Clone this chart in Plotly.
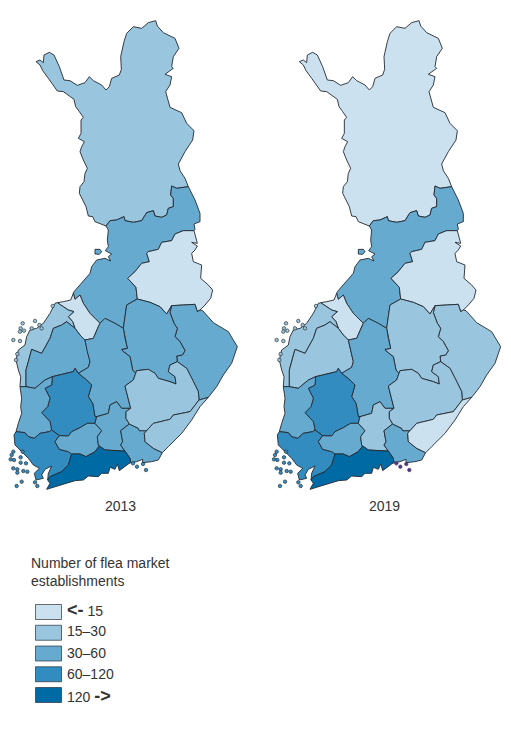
import plotly.graph_objects as go

LAP_COAST = [(318,-102),(300,-110),(285,-115),(278,-130),(265,-132),(258,-160),(245,-185),(238,-200),(240,-220),(252,-235),(255,-260),(262,-275),(250,-300),(240,-325),(245,-340),(253,-355),(235,-365),(243,-380),(243,-420),(250,-428),(238,-445),(227,-460),(222,-482),(205,-495),(190,-505),(172,-507),(160,-525),(145,-545),(128,-568),(120,-585),(108,-595),(120,-600),(130,-592),(132,-615),(148,-623),(162,-615),(178,-580),(192,-540),(210,-538),(232,-524),(255,-532),(268,-550),(280,-538),(305,-525),(318,-510),(328,-520),(335,-545),(358,-555),(364,-572),(362,-610),(372,-655),(380,-680),(400,-700),(425,-695),(445,-712),(467,-718),(472,-702),(490,-682),(525,-665),(537,-635),(520,-610),(515,-580),(520,-575),(495,-557),(515,-550),(510,-525),(497,-505),(505,-470),(510,-458),(545,-442),(560,-410),(582,-388),(578,-360),(555,-325),(535,-288),(540,-268),(555,-245),(565,-220)]
LAP_SOUTH = [(565,-220),(530,-215),(515,-222),(512,-195),(520,-185),(520,-160),(505,-155),(500,-135),(485,-128),(465,-132),(460,-148),(440,-142),(425,-118),(400,-113),(375,-118),(372,-130),(350,-120),(330,-118),(318,-102)]
NOST_EAST = [(565,-220),(585,-180),(600,-140),(600,-115),(582,-108),(585,-92),(582,-88)]
KAI_NOST = [(582,-88),(550,-88),(525,-78),(515,-58),(485,-53),(475,-32),(445,-25),(440,-20),(448,5),(425,10),(405,35),(383,55),(408,82),(412,117)]
KAI_EAST = [(582,-88),(592,-50),(575,-53),(592,-42),(585,-30),(575,-20),(580,5),(605,15),(602,55),(625,75),(638,90),(632,115),(615,135),(600,150)]
KAI_NKAR = [(600,150),(592,155),(585,133),(550,135),(515,137)]
KAI_NSAV = [(515,137),(500,162),(480,140),(450,127),(412,117)]
NOST_COAST = [(318,-102),(325,-90),(322,-60),(325,-40),(316,-28),(335,-18),(325,-10),(332,3),(315,-5),(290,0),(275,20),(270,40),(240,75),(222,95),(220,100)]
NOST_COST = [(220,100),(225,118),(240,105),(250,130),(270,160),(300,190)]
NOST_CFIN = [(300,190),(315,175),(345,190),(370,205)]
NOST_NSAV = [(370,205),(375,170),(380,135),(412,117)]
COST_COAST = [(220,100),(212,120),(190,125),(172,128)]
COST_OST = [(172,128),(190,140),(205,150),(222,155),(205,170),(218,185),(225,205)]
COST_SOST = [(225,205),(240,225),(255,240)]
COST_CFIN = [(255,240),(280,235),(295,200),(300,190)]
OST_COAST = [(172,128),(165,130),(150,160),(130,190),(110,205),(90,210),(80,230),(75,255),(55,270),(48,300),(55,330),(62,350),(60,380)]
OST_SOST = [(225,205),(200,185),(185,195),(160,205),(150,235),(125,280),(95,268),(85,305),(78,330),(78,380)]
OST_SATA = [(60,380),(78,380)]
SOST_SATA = [(78,380),(105,385),(135,360),(157,350)]
SOST_PIRK = [(157,350),(190,342),(220,335),(225,325),(235,340)]
SOST_CFIN = [(235,340),(265,322),(270,305),(262,275),(255,240)]
SATA_PIRK = [(157,350),(155,375),(135,385),(150,415),(143,440),(125,458),(150,485),(155,510)]
SATA_VSSU = [(155,510),(148,515),(120,520),(103,535),(85,530),(75,518),(48,515)]
SATA_COAST = [(48,515),(55,490),(65,460),(62,440),(65,415),(60,380)]
PIRK_CFIN = [(235,340),(260,360),(275,375),(265,410),(278,430),(285,470),(290,470)]
PIRK_PAIJ = [(290,470),(285,490)]
PIRK_KANT = [(285,490),(262,490),(240,503),(215,515),(205,528),(178,527)]
PIRK_VSSU = [(178,527),(155,510)]
VSSU_KANT = [(178,527),(165,545),(178,568),(205,575),(215,582)]
KANT_UUSI = [(215,582),(240,582),(258,590),(285,575),(298,558)]
KANT_PAIJ = [(285,490),(305,512),(292,530),(295,555),(298,558)]
PAIJ_CFIN = [(290,470),(325,460),(330,435),(350,425),(365,445),(392,445)]
PAIJ_SSAV = [(392,445),(378,455),(378,475),(388,492)]
PAIJ_KYME = [(388,492),(362,512),(368,545),(362,555),(375,573)]
PAIJ_UUSI = [(298,558),(315,570),(345,572),(375,573)]
UUSI_KYME = [(375,573),(390,595),(392,608)]
KYME_COAST = [(392,608),(410,605),(428,598),(428,608),(455,605),(475,600),(487,578)]
KYME_SKAR = [(487,578),(460,565),(435,545),(433,520),(440,512)]
KYME_SSAV = [(388,492),(415,505),(418,512),(440,512)]
SSAV_SKAR = [(440,512),(460,490),(510,478),(520,465),(570,455),(597,420)]
SKAR_COAST = [(625,412),(600,440),(575,480),(545,520),(505,560),(487,578)]
SKAR_NKAR = [(597,420),(625,412)]
NKAR_COAST = [(600,150),(608,152),(640,188),(685,215),(712,260),(695,310),(670,345),(650,380),(625,412)]
NKAR_SSAV = [(532,305),(560,325),(578,360),(595,395),(597,420)]
NKAR_NSAV = [(515,137),(510,158),(522,190),(532,205),(525,230),(540,245),(555,272),(547,285),(530,288),(532,305)]
NSAV_SSAV = [(532,305),(510,315),(505,335),(525,350),(528,372),(510,365),(475,355),(465,340),(445,328),(410,332),(407,340)]
NSAV_CFIN = [(370,205),(375,235),(382,265),(365,268),(368,273),(390,290),(395,310),(398,330),(407,340)]
CFIN_SSAV = [(407,340),(400,360),(375,378),(385,415),(392,445)]
UUSI_COAST = [(392,608),(385,612),(372,622),(358,632),(352,612),(345,628),(330,622),(325,640),(305,640),(295,650),(265,648),(250,660),(225,662),(190,672),(165,680),(140,688),(150,670),(143,660)]
VSSU_UUSI = [(215,582),(205,615),(185,635),(150,650),(143,660)]
VSSU_COAST = [(143,660),(145,640),(155,618),(135,628),(125,645),(130,655),(108,660),(103,640),(118,625),(100,615),(85,595),(60,570),(45,555),(42,525),(48,515)]
HAILUOTO = [(285,-32),(300,-32),(305,-25),(298,-17),(285,-18)]

REGIONS = ["Lapland", "North Ostrobothnia", "Kainuu", "North Karelia", "North Savo", "Central Ostrobothnia",
           "Ostrobothnia", "South Ostrobothnia", "Central Finland", "Pirkanmaa", "Satakunta", "Southwest Finland",
           "Kanta-Hame", "Paijat-Hame", "Kymenlaakso", "South Savo", "South Karelia", "Uusimaa"]

# every ring: border list and whether it is walked backwards
RINGS = [
    [(LAP_COAST, 0), (LAP_SOUTH, 0)],
    [(LAP_SOUTH, 1), (NOST_EAST, 0), (KAI_NOST, 0), (NOST_NSAV, 1), (NOST_CFIN, 1), (NOST_COST, 1), (NOST_COAST, 1)],
    [(KAI_NOST, 0), (KAI_NSAV, 1), (KAI_NKAR, 1), (KAI_EAST, 1)],
    [(NKAR_COAST, 0), (SKAR_NKAR, 1), (NKAR_SSAV, 1), (NKAR_NSAV, 1), (KAI_NKAR, 1)],
    [(KAI_NSAV, 1), (NKAR_NSAV, 0), (NSAV_SSAV, 0), (NSAV_CFIN, 1), (NOST_NSAV, 0)],
    [(NOST_COST, 0), (COST_CFIN, 1), (COST_SOST, 1), (COST_OST, 1), (COST_COAST, 1)],
    [(OST_COAST, 0), (OST_SATA, 0), (OST_SOST, 1), (COST_OST, 1)],
    [(COST_SOST, 0), (SOST_CFIN, 1), (SOST_PIRK, 1), (SOST_SATA, 1), (OST_SOST, 1)],
    [(NOST_CFIN, 0), (NSAV_CFIN, 0), (CFIN_SSAV, 0), (PAIJ_CFIN, 1), (PIRK_CFIN, 1), (SOST_CFIN, 0), (COST_CFIN, 0)],
    [(SOST_PIRK, 0), (PIRK_CFIN, 0), (PIRK_PAIJ, 0), (PIRK_KANT, 0), (PIRK_VSSU, 0), (SATA_PIRK, 1)],
    [(OST_SATA, 0), (SOST_SATA, 0), (SATA_PIRK, 0), (SATA_VSSU, 0), (SATA_COAST, 0)],
    [(SATA_VSSU, 0), (VSSU_COAST, 1), (VSSU_UUSI, 1), (VSSU_KANT, 1), (PIRK_VSSU, 0)],
    [(PIRK_KANT, 0), (VSSU_KANT, 0), (KANT_UUSI, 0), (KANT_PAIJ, 1)],
    [(PAIJ_CFIN, 0), (PAIJ_SSAV, 0), (PAIJ_KYME, 0), (PAIJ_UUSI, 1), (KANT_PAIJ, 1), (PIRK_PAIJ, 1)],
    [(KYME_SSAV, 0), (KYME_SKAR, 1), (KYME_COAST, 1), (UUSI_KYME, 1), (PAIJ_KYME, 1)],
    [(CFIN_SSAV, 0), (PAIJ_SSAV, 0), (KYME_SSAV, 0), (SSAV_SKAR, 0), (NKAR_SSAV, 1), (NSAV_SSAV, 0)],
    [(SSAV_SKAR, 0), (SKAR_NKAR, 0), (SKAR_COAST, 0), (KYME_SKAR, 0)],
    [(KANT_UUSI, 0), (PAIJ_UUSI, 0), (UUSI_KYME, 0), (UUSI_COAST, 0), (VSSU_UUSI, 1)],
]

# class index of each region
CLASS_2013 = [1, 2, 0, 2, 2, 0, 1, 2, 2, 3, 2, 3, 2, 2, 2, 1, 1, 4]
CLASS_2019 = [0, 2, 0, 1, 1, 0, 1, 1, 2, 3, 2, 3, 2, 1, 2, 1, 0, 4]

YEARS = ["2013", "2019"]
LEGEND_TITLE = "Number of flea market<br>establishments"
ARROW = '<span style="font-size:18px"><b>%s</b></span>'
LEGEND_LABELS = [ARROW % "&lt;-" + " 15", "15–30", "30–60", "60–120", "120 " + ARROW % "-&gt;"]
COLORS = ["#cce1ef", "#99c5de", "#66aad0", "#338cbf", "#006aa5"]

ISLANDS_OST = [(68,190),(62,205),(72,212),(60,215),(105,183),(95,205),(118,195),(125,205),(40,240),(60,243),(52,282),(48,300),(158,138)]
ISLANDS_VSSU = [(40,575),(35,585),(32,598),(42,600),(68,575),(62,592),(62,608),(78,610),(40,625),(52,628),(52,638),(70,633),(82,635),(65,665),(50,678),(105,667),(112,678)]
ISLANDS_KYME = [(399,610),(411,620),(429,612),(438,630)]

W, H = 511, 732
OFFSET_2019 = 790  # second map sits 263 px to the right
LINE = "rgba(35,42,50,0.9)"
FONT = "Liberation Sans, Arial, sans-serif"


def ring_points(ring):
    pts = []
    for border, backwards in ring:
        pts += border[::-1] if backwards else border
    return pts


def add_polygon(fig, pts, color, shift, name):
    fig.add_trace(go.Scatter(x=[p[0] + shift for p in pts] + [pts[0][0] + shift],
                             y=[p[1] for p in pts] + [pts[0][1]],
                             mode="lines", fill="toself", fillcolor=color, name=name,
                             line=dict(color=LINE, width=1), hoverinfo="name"))


def add_islands(fig, pts, color, shift, name, edge=LINE):
    fig.add_trace(go.Scatter(x=[p[0] + shift for p in pts], y=[p[1] for p in pts], mode="markers", name=name,
                             marker=dict(size=3.5, color=color, line=dict(color=edge, width=0.7)),
                             hoverinfo="name"))


fig = go.Figure()
for classes, shift in zip([CLASS_2013, CLASS_2019], [0, OFFSET_2019]):
    for name, ring, c in zip(REGIONS, RINGS, classes):
        add_polygon(fig, ring_points(ring), COLORS[c], shift, name)
    add_polygon(fig, HAILUOTO, COLORS[classes[1]], shift, REGIONS[1])
    add_islands(fig, ISLANDS_OST, COLORS[classes[6]], shift, REGIONS[6])
    add_islands(fig, ISLANDS_VSSU, COLORS[3], shift, REGIONS[11])
    if shift:
        add_islands(fig, ISLANDS_KYME, "#4f3a78", shift, REGIONS[14], edge="#4f3a78")
    else:
        add_islands(fig, ISLANDS_KYME, COLORS[3], shift, REGIONS[14])


def paper_x(px):
    return px / W


def paper_y(px):
    return 1 - px / H


annotations = []
for year, px in zip(YEARS, [120, 384]):
    annotations.append(dict(text=year, x=paper_x(px), y=paper_y(506), xanchor="center", yanchor="middle"))
annotations.append(dict(text=LEGEND_TITLE, x=paper_x(29), y=paper_y(572), xanchor="left", yanchor="middle", align="left"))

shapes = []
for i, (label, color) in enumerate(zip(LEGEND_LABELS, COLORS)):
    top = 604.5 + i * 20.75
    shapes.append(dict(type="rect", xref="paper", yref="paper", x0=paper_x(35.5), x1=paper_x(61.5),
                       y0=paper_y(top), y1=paper_y(top + 15), fillcolor=color,
                       line=dict(color="rgba(40,50,60,0.7)", width=1)))
    annotations.append(dict(text=label, x=paper_x(65), y=paper_y(609.5 + i * 21.6), xanchor="left", yanchor="middle"))

for a in annotations:
    a.update(xref="paper", yref="paper", showarrow=False, font=dict(family=FONT, size=14, color="#333333"))

fig.update_layout(width=W, height=H, margin=dict(l=0, r=0, t=0, b=0), showlegend=False,
                  paper_bgcolor="white", plot_bgcolor="white", annotations=annotations, shapes=shapes)
fig.update_xaxes(range=[0, W * 3], visible=False, fixedrange=True)
fig.update_yaxes(range=[(H - 260) * 3, -260 * 3], visible=False, fixedrange=True)

fig.write_html("out.html", config=dict(displayModeBar=False), post_script="document.body.style.margin='0';")
